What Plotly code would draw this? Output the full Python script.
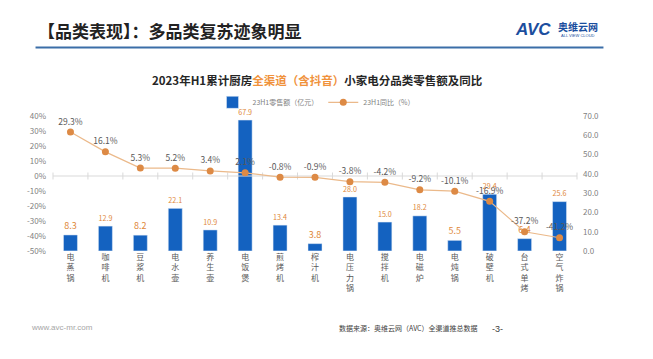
import plotly.graph_objects as go

categories = ["电蒸锅", "咖啡机", "豆浆机", "电水壶", "养生壶", "电饭煲", "煎烤机", "榨汁机",
              "电压力锅", "搅拌机", "电磁炉", "电炖锅", "破壁机", "台式单烤", "空气炸锅"]
sales = [8.3, 12.9, 8.2, 22.1, 10.9, 67.9, 13.4, 3.8, 28.0, 15.0, 18.2, 5.5, 29.4, 6.4, 25.6]
yoy = [29.3, 16.1, 5.3, 5.2, 3.4, 2.1, -0.8, -0.9, -3.8, -4.2, -9.2, -10.1, -16.9, -37.2, -41.2]
left_ticks = [-50, -40, -30, -20, -10, 0, 10, 20, 30, 40]
right_ticks = [0, 10, 20, 30, 40, 50, 60, 70]

W, H = 653, 359
L, R, T, B = 52.5, 577.5, 115.7, 251.0
FONT = "Noto Sans CJK SC"


def px(x):
    return (x - L) / (R - L)


def py(y):
    return (B - y) / (B - T)


n = len(categories)
xpos = list(range(n))
ticktext = ["<br>".join(list(c)) for c in categories]
bounds = [i - 0.5 for i in range(n + 1)]

fig = go.Figure()
fig.add_trace(go.Bar(
    x=xpos, y=sales, name="23H1零售额（亿元）",
    marker_color="#1462C0", width=0.4,
    text=[f"{v:.1f}" for v in sales], textposition="outside",
    textfont=dict(color="#E0883A", size=9, family=FONT),
    cliponaxis=False, yaxis="y",
))
# category axis line at 0% with boundary ticks
fig.add_trace(go.Scatter(
    x=bounds, y=[0] * len(bounds), mode="lines+markers", yaxis="y2",
    line=dict(color="#D9D9D9", width=1),
    marker=dict(symbol="line-ns-open", size=5, line=dict(color="#D9D9D9", width=1)),
    hoverinfo="skip", showlegend=False, cliponaxis=False,
))
fig.add_trace(go.Scatter(
    x=xpos, y=yoy, name="23H1同比（%）", mode="lines+markers+text",
    line=dict(color="#EBB98A", width=1.2),
    marker=dict(color="#DD8A45", size=7),
    text=[f"{v:.1f}%" for v in yoy], textposition="top center",
    textfont=dict(color="#595959", size=8.5, family=FONT),
    cliponaxis=False, yaxis="y2",
))

fig.update_layout(
    width=W, height=H,
    margin=dict(l=L, r=W - R, t=T, b=H - B, pad=0, autoexpand=False),
    paper_bgcolor="white", plot_bgcolor="white",
    font=dict(family=FONT, color="#7f7f7f", size=8),
    showlegend=True,
    legend=dict(orientation="h", x=px(316), xanchor="center", y=py(102), yanchor="middle",
                font=dict(size=7, color="#7f7f7f"), bgcolor="rgba(0,0,0,0)"),
    xaxis=dict(tickmode="array", tickvals=xpos, ticktext=ticktext, tickangle=0,
               tickfont=dict(size=8, color="#595959"), showgrid=False, showline=False,
               zeroline=False, ticks="", range=[-0.5, n - 0.5], automargin=False),
    yaxis=dict(side="right", range=[-0.02, 70.02], tickmode="array", tickvals=right_ticks,
               ticktext=[f"{v:.1f}" for v in right_ticks], showgrid=False,
               zeroline=False, tickfont=dict(size=8, color="#7f7f7f"), ticklabelstandoff=5,
               automargin=False),
    yaxis2=dict(overlaying="y", side="left", range=[-50.02, 40.02], tickmode="array",
                tickvals=left_ticks, ticktext=[f"{v}%" for v in left_ticks],
                showgrid=False, zeroline=False, tickfont=dict(size=8, color="#7f7f7f"),
                ticklabelstandoff=6, automargin=False),
)

annotations = [
    dict(x=px(35), y=py(30), text="<b>【品类表现】：多品类复苏迹象明显</b>", xanchor="left",
         yanchor="middle", font=dict(size=17, color="#222222", family=FONT)),
    dict(x=px(318), y=py(80),
         text="<b>2023年H1累计厨房<span style='color:#F0923C'>全渠道（含抖音）</span>小家电分品类零售额及同比</b>",
         xanchor="center", yanchor="middle", font=dict(size=11.5, color="#262626", family=FONT)),
    dict(x=px(513), y=py(29), text="<b><i>AVC</i></b>", xanchor="left", yanchor="middle",
         font=dict(size=17, color="#1B4E9E", family="Liberation Sans")),
    dict(x=px(556), y=py(26), text="<b>奥维云网</b>", xanchor="left", yanchor="middle",
         font=dict(size=10, color="#1B4E9E", family=FONT)),
    dict(x=px(559), y=py(35), text="ALL VIEW CLOUD", xanchor="left", yanchor="middle",
         font=dict(size=4, color="#1B4E9E", family="Liberation Sans")),
    dict(x=px(28), y=py(328), text="www.avc-mr.com", xanchor="left", yanchor="middle",
         font=dict(size=8, color="#A6A6A6", family="Liberation Sans")),
    dict(x=px(480), y=py(328), text="数据来源：奥维云网（AVC）全渠道推总数据", xanchor="right",
         yanchor="middle", font=dict(size=7, color="#404040", family=FONT)),
    dict(x=px(490), y=py(329), text="-3-", xanchor="left", yanchor="middle",
         font=dict(size=9, color="#404040", family="Liberation Sans")),
]
for a in annotations:
    a.update(xref="paper", yref="paper", showarrow=False)
fig.update_layout(annotations=annotations)

fig.add_shape(type="line", xref="paper", yref="paper", x0=px(35), x1=px(604), y0=py(47), y1=py(47),
              line=dict(color="#3B6EA8", width=2))

fig.write_html("out.html", config={"displayModeBar": False},
               post_script="document.body.style.margin='0';")
